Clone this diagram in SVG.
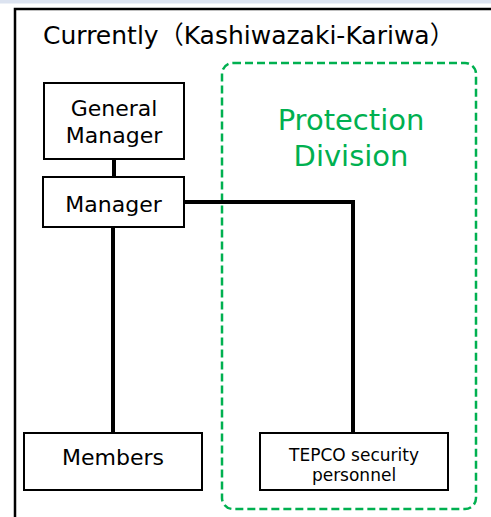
<svg xmlns="http://www.w3.org/2000/svg" width="491" height="517" viewBox="0 0 491 517">
<style>
.box{fill:#fff;stroke:#000;stroke-width:2}
.t{font-family:"DejaVu Sans","Noto Sans CJK JP",sans-serif;fill:#000;text-anchor:middle}
.conn{stroke:#000;stroke-width:4;fill:none}
</style>
<rect x="0" y="0" width="491" height="517" fill="#fff"/>
<rect x="0" y="0" width="491" height="3.5" fill="#dce3f0"/>
<rect x="15" y="9" width="500" height="530" fill="none" stroke="#000" stroke-width="2.5"/>
<text x="43" y="44" font-family="DejaVu Sans, Noto Sans CJK JP, sans-serif" font-size="25" fill="#000">Currently（Kashiwazaki-Kariwa）</text>
<g id="protection-division">
<rect x="222" y="63" width="254" height="446" rx="11" fill="none" stroke="#00b050" stroke-width="2.5" stroke-dasharray="8,4"/>
<text class="t" x="351" y="130" font-size="29" style="fill:#00b050">Protection</text>
<text class="t" x="351" y="166" font-size="29" style="fill:#00b050">Division</text>
</g>
<g id="connectors">
<line class="conn" x1="114" y1="159" x2="114" y2="177"/>
<line class="conn" x1="113" y1="227" x2="113" y2="433"/>
<polyline class="conn" points="184,202 353,202 353,433"/>
</g>
<g id="general-manager">
<rect class="box" x="44" y="83" width="140" height="76"/>
<text class="t" x="114" y="116" font-size="22">General</text>
<text class="t" x="114" y="143" font-size="22">Manager</text>
</g>
<g id="manager">
<rect class="box" x="43" y="177" width="141" height="50"/>
<text class="t" x="113.5" y="211.5" font-size="22">Manager</text>
</g>
<g id="members">
<rect class="box" x="24" y="433" width="178" height="57"/>
<text class="t" x="113" y="465" font-size="22">Members</text>
</g>
<g id="tepco-security">
<rect class="box" x="260" y="433" width="188" height="57"/>
<text class="t" x="354" y="461" font-size="17">TEPCO security</text>
<text class="t" x="354" y="481" font-size="17">personnel</text>
</g>
</svg>
